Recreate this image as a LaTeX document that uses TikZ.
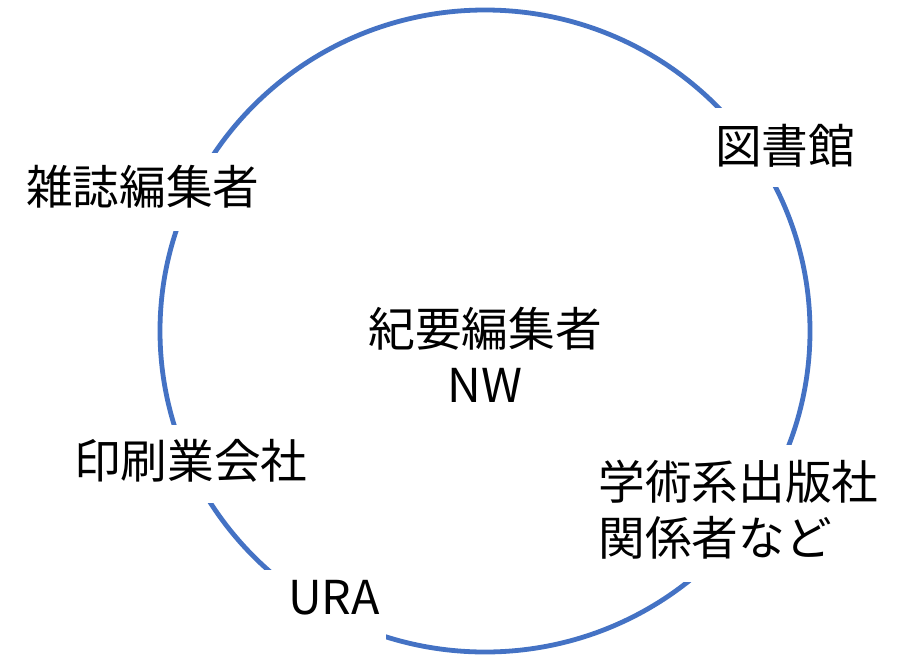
\documentclass[tikz,border=0pt]{standalone}
\usepackage{fontspec}
\setmainfont{Noto Sans CJK JP}
\definecolor{ringblue}{HTML}{4472C4}
\begin{document}
\begin{tikzpicture}[x=0.75pt,y=-0.75pt,
  ring/.style={draw=ringblue, line width=3.6pt},
  mask/.style={fill=white},
  lbl/.style={inner sep=0pt, text=black, font=\fontsize{35}{42}\selectfont}]
\useasboundingbox[fill=white] (0,0) rectangle (908,658);
% ring
\draw[ring] (485,331) ellipse [x radius=243.75pt, y radius=240.75pt];
% white text boxes that hide the ring
\fill[mask] (16,153) rectangle (272,231);
\fill[mask] (705,108) rectangle (865,187);
\fill[mask] (588,445) rectangle (890,582);
\fill[mask] (64,425) rectangle (318,503);
\fill[mask] (255,570) rectangle (386,646);
% labels
\node[lbl] (zasshi) at (143,187) {雑誌編集者};
\node[lbl] (tosho) at (785,146) {図書館};
\node[lbl, align=left] (gakujutsu) at (738.5,510) {学術系出版社\\関係者など};
\node[lbl] (insatsu) at (191,461) {印刷業会社};
\node[lbl] (ura) at (334,598) {URA};
\node[lbl, align=center] (center) at (485,355) {紀要編集者\\NW};
\end{tikzpicture}
\end{document}
